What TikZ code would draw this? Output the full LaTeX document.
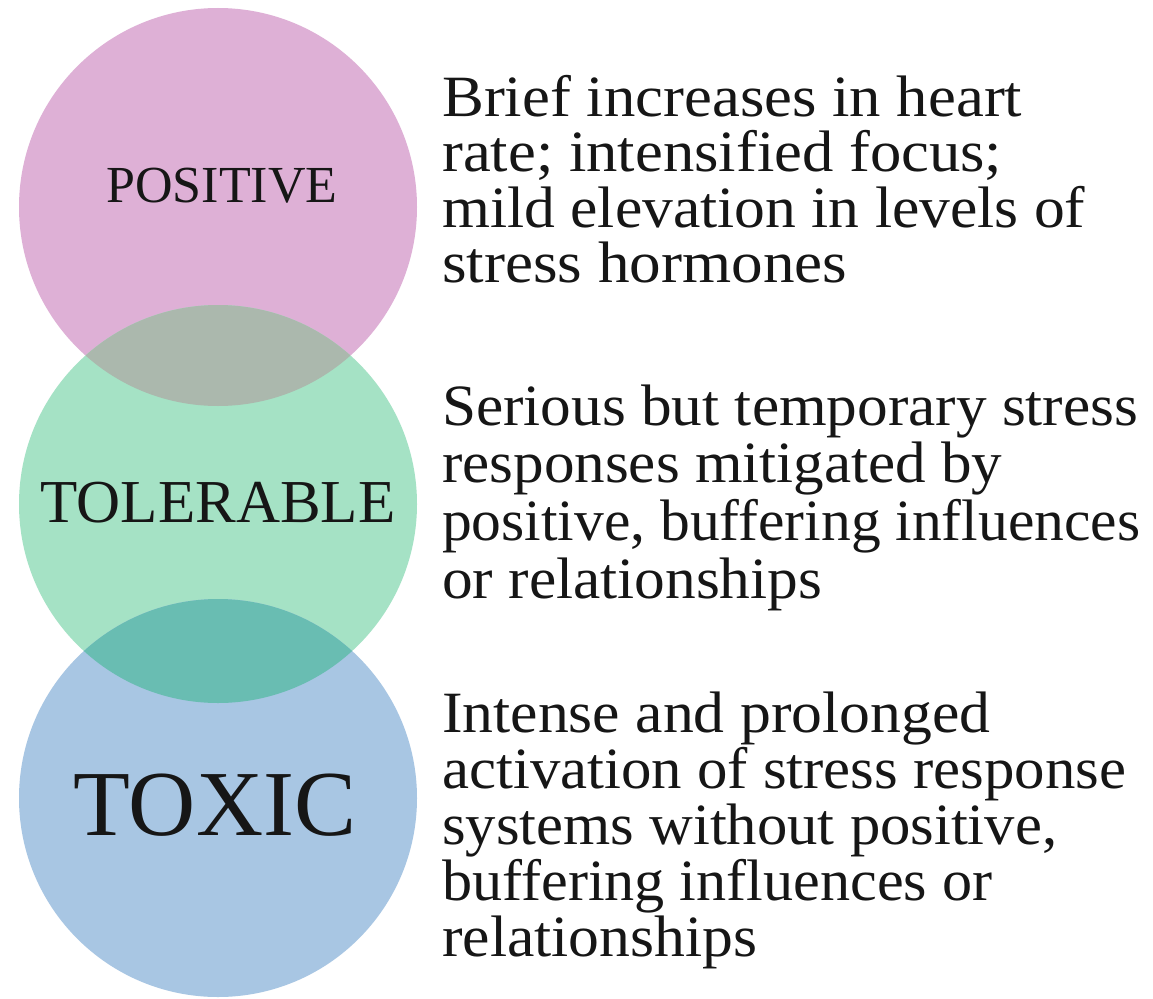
\documentclass[tikz,border=0pt]{standalone}
\usepackage{graphicx}
\usepackage{fontspec}
\setmainfont{Liberation Serif}
\definecolor{pinkc}{HTML}{DEB0D6}
\definecolor{greenc}{HTML}{A5E2C5}
\definecolor{bluec}{HTML}{A8C6E3}
\definecolor{pgover}{HTML}{ABB8AD}
\definecolor{gbover}{HTML}{69BDB2}
\definecolor{ink}{HTML}{161616}
\newcommand{\fitline}[2]{\resizebox{#1pt}{\height}{#2}}
\begin{document}
\begin{tikzpicture}[x=1pt,y=-1pt,
  bubble/.style={circle, minimum size=398pt, inner sep=0pt, draw=none},
  label/.style={anchor=base, inner sep=0pt, text=ink},
  desc/.style={anchor=base west, inner sep=0pt, text=ink, font=\fontsize{58.5}{56}\selectfont}
]
\useasboundingbox (0,0) rectangle (1153,998);
\fill[white] (0,0) rectangle (1153,998);
% circles
\node[bubble, fill=pinkc] (pos) at (218,207) {};
\node[bubble, fill=greenc] (tol) at (218,504) {};
\node[bubble, fill=bluec] (tox) at (218,798) {};
% overlaps
\begin{scope}
  \clip (218,207) circle (199pt);
  \fill[pgover] (218,504) circle (199pt);
\end{scope}
\begin{scope}
  \clip (218,504) circle (199pt);
  \fill[gbover] (218,798) circle (199pt);
\end{scope}
% circle labels
\node[label, font=\fontsize{52}{52}\selectfont] (lpos) at (222,202) {POSITIVE};
\node[label, font=\fontsize{61}{61}\selectfont] (ltol) at (218,522) {TOLERABLE};
\node[label, font=\fontsize{93}{93}\selectfont] (ltox) at (215,835) {TOXIC};
% descriptions
\node[desc] (d1) at (442,116) {\parbox[t]{720pt}{\raggedright\baselineskip=55.5pt
\fitline{580}{Brief increases in heart}\\
\fitline{560}{rate; intensified focus;}\\
\fitline{643}{mild elevation in levels of}\\
\fitline{405}{stress hormones}}};
\node[desc] (d2) at (442,425) {\parbox[t]{720pt}{\raggedright\baselineskip=57.7pt
\fitline{696}{Serious but temporary stress}\\
\fitline{560}{responses mitigated by}\\
\fitline{698}{positive, buffering influences}\\
\fitline{380}{or relationships}}};
\node[desc] (d3) at (442,732) {\parbox[t]{720pt}{\raggedright\baselineskip=56.2pt
\fitline{548}{Intense and prolonged}\\
\fitline{684}{activation of stress response}\\
\fitline{615}{systems without positive,}\\
\fitline{550}{buffering influences or}\\
\fitline{315}{relationships}}};
\end{tikzpicture}
\end{document}
